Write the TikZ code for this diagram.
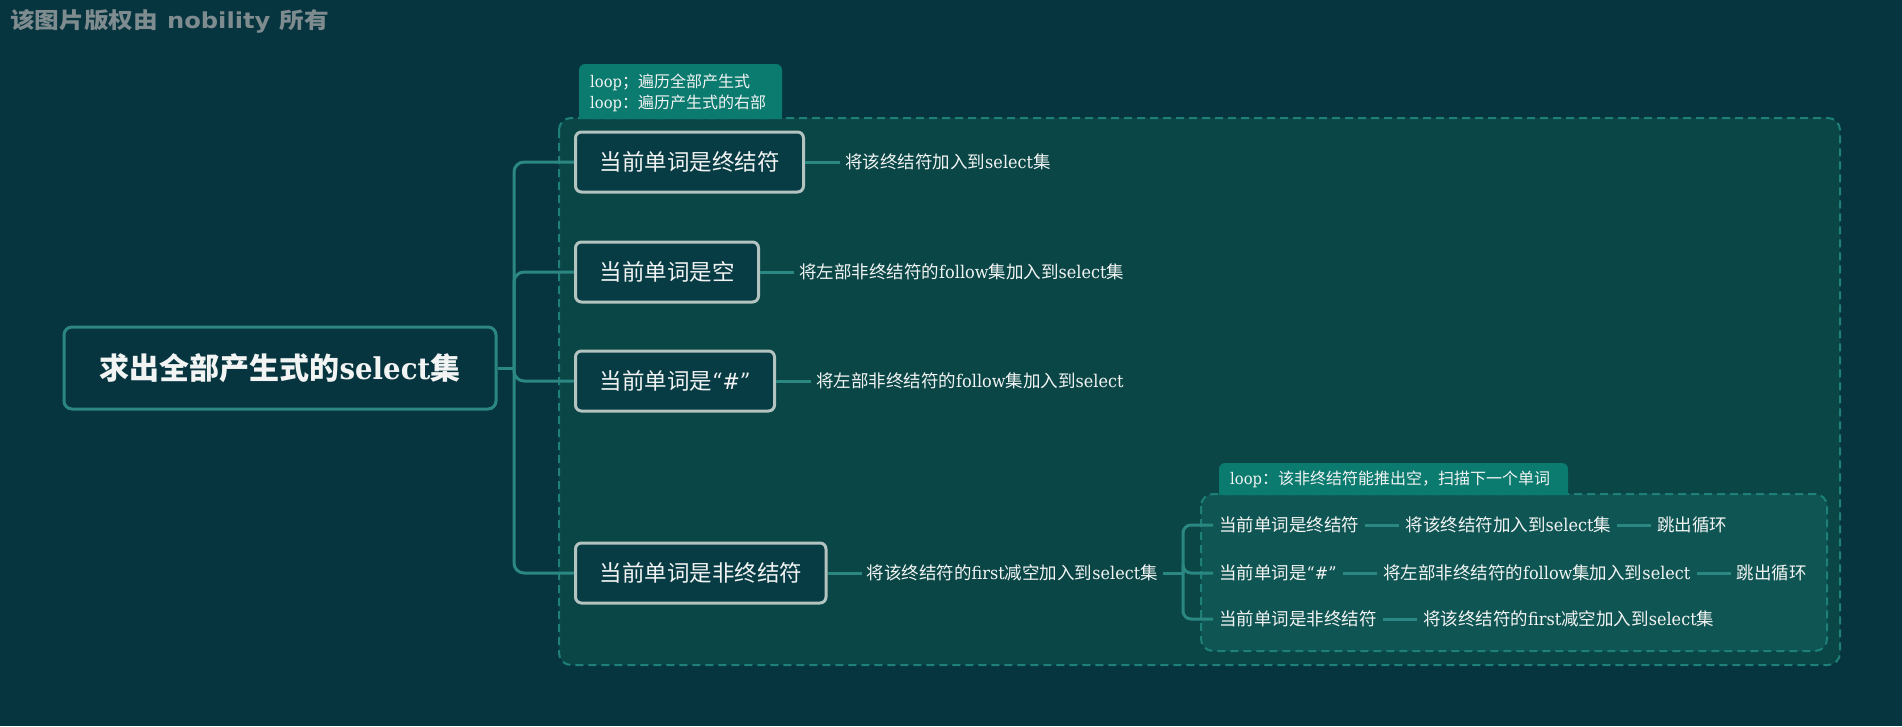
\documentclass[tikz,border=0pt]{standalone}
\usepackage{fontspec}
\setmainfont{Noto Sans CJK SC}
\newfontfamily\latfont{DejaVu Serif}[FakeStretch=0.92]
\newfontfamily\wmlatfont{DejaVu Sans}[FakeStretch=1.1]
\newfontfamily\wmcjkfont{Noto Sans CJK SC}[FakeStretch=1.12]
\newcommand\latw[1]{{\latfont #1}}
\usetikzlibrary{positioning}
\definecolor{bgcol}{HTML}{06343F}
\definecolor{outerfill}{HTML}{0A4646}
\definecolor{innerfill}{HTML}{0F5553}
\definecolor{dashcol}{HTML}{1E8078}
\definecolor{labfill}{HTML}{0B7A6F}
\definecolor{conncol}{HTML}{2B8782}
\definecolor{nodeborder}{HTML}{B3C3BF}
\definecolor{nodefill}{HTML}{083C45}
\definecolor{rootborder}{HTML}{2C8782}
\definecolor{rootfill}{HTML}{063540}
\definecolor{txtcol}{HTML}{F2F4F3}
\definecolor{wmcol}{HTML}{7E8C8F}
\tikzset{
  mainnode/.style={draw=nodeborder, line width=3pt, fill=nodefill, rounded corners=6pt,
    minimum height=60pt, inner xsep=24pt, text=txtcol, font=\fontsize{22.5}{26}\selectfont, anchor=west},
  rootnode/.style={draw=rootborder, line width=3pt, fill=rootfill, rounded corners=8pt,
    minimum width=432pt, minimum height=82pt, text=txtcol, font=\bfseries\fontsize{30}{34}\selectfont},
  leaf/.style={inner xsep=5pt, inner ysep=2pt, text=txtcol, font=\fontsize{17.5}{21}\selectfont},
  rowtxt/.style={inner xsep=6pt, inner ysep=2pt, text=txtcol, font=\fontsize{17.5}{21}\selectfont},
  labtxt/.style={inner sep=0pt, text=txtcol, align=left, font=\fontsize{16}{21}\selectfont, anchor=west},
  conn/.style={draw=conncol, line width=3pt},
  dashbox/.style={draw=dashcol, line width=2pt, dash pattern=on 8pt off 5pt, rounded corners=12pt},
}
\begin{document}
\begin{tikzpicture}[x=1pt,y=-1pt]
\useasboundingbox (0,0) rectangle (1902,726);
\fill[bgcol] (0,0) rectangle (1902,726);

% watermark
\node[anchor=west, text=wmcol, inner sep=0pt, font=\fontsize{22}{26}\selectfont] (wm) at (10,21)
  {\wmcjkfont\bfseries 该图片版权由\hspace{9pt}{\wmlatfont\bfseries nobility}\hspace{9pt}所有};

% outer dashed group
\draw[dashbox, fill=outerfill] (559,118) rectangle (1840,665);
\fill[labfill, rounded corners=6pt] (579,64) rectangle (782,119);
\fill[labfill] (579,100) rectangle (782,119);
\node[labtxt] (lab1) at (590,93) {\latw{loop}；遍历全部产生式\\\latw{loop}：遍历产生式的右部};

% root and main nodes
\node[rootnode] (root) at (280,368) {求出全部产生式的\latw{select}集};
\node[mainnode] (n1) at (574,162) {当前单词是终结符};
\node[mainnode] (n2) at (574,272) {当前单词是空};
\node[mainnode] (n3) at (574,381) {当前单词是\latw{“\#”}};
\node[mainnode] (n4) at (574,573) {当前单词是非终结符};

\coordinate (tr) at (514,368);
\draw[conn] (root.east) -- (tr);
\foreach \n in {n1,n2,n3,n4}{
  \draw[conn, rounded corners=10pt] (tr) |- (\n.west);
}

% leaves
\node[leaf, anchor=west, right=35pt of n1] (l1) {将该终结符加入到\latw{select}集};
\node[leaf, anchor=west, right=34pt of n2] (l2) {将左部非终结符的\latw{follow}集加入到\latw{select}集};
\node[leaf, anchor=west, right=35pt of n3] (l3) {将左部非终结符的\latw{follow}集加入到\latw{select}};
\node[leaf, anchor=west, right=34pt of n4] (l4) {将该终结符的\latw{first}减空加入到\latw{select}集};
\draw[conn] (n1.east) -- (l1.west);
\draw[conn] (n2.east) -- (l2.west);
\draw[conn] (n3.east) -- (l3.west);
\draw[conn] (n4.east) -- (l4.west);

% inner dashed group
\draw[dashbox, fill=innerfill] (1201,494) rectangle (1827,651);
\fill[labfill, rounded corners=6pt] (1219,463) rectangle (1568,495);
\fill[labfill] (1219,480) rectangle (1568,495);
\node[labtxt] (lab2) at (1230,479) {\latw{loop}：该非终结符能推出空，扫描下一个单词};

\node[rowtxt, anchor=west] (r1a) at (1213,525) {当前单词是终结符};
\node[rowtxt, right=34pt of r1a] (r1b) {将该终结符加入到\latw{select}集};
\node[rowtxt, right=34pt of r1b] (r1c) {跳出循环};
\node[rowtxt, anchor=west] (r2a) at (1213,573) {当前单词是\latw{“\#”}};
\node[rowtxt, right=34pt of r2a] (r2b) {将左部非终结符的\latw{follow}集加入到\latw{select}};
\node[rowtxt, right=34pt of r2b] (r2c) {跳出循环};
\node[rowtxt, anchor=west] (r3a) at (1213,619) {当前单词是非终结符};
\node[rowtxt, right=34pt of r3a] (r3b) {将该终结符的\latw{first}减空加入到\latw{select}集};

\draw[conn] (r1a.east) -- (r1b.west);
\draw[conn] (r1b.east) -- (r1c.west);
\draw[conn] (r2a.east) -- (r2b.west);
\draw[conn] (r2b.east) -- (r2c.west);
\draw[conn] (r3a.east) -- (r3b.west);

\coordinate (bk) at (1183,573);
\draw[conn] (l4.east) -- (bk);
\foreach \r in {r1a,r2a,r3a}{
  \draw[conn, rounded corners=8pt] (bk) |- (\r.west);
}
\end{tikzpicture}
\end{document}
